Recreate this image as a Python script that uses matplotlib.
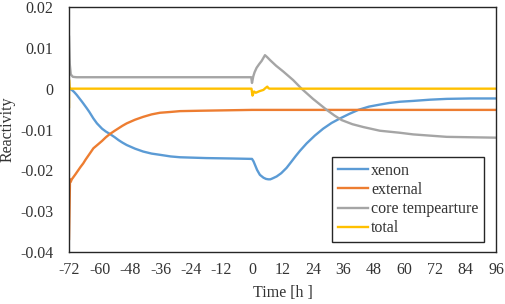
import matplotlib
matplotlib.use("Agg")
import matplotlib.pyplot as plt
from matplotlib.ticker import FixedLocator

plt.rcParams['font.family'] = ['Liberation Serif', 'DejaVu Serif']

# ---- data ----
xenon_t = [-72, -71.5, -70.9, -70, -69, -68, -67, -66.4, -65, -64, -62.4, -61, -59, -57.5, -55.9,
           -54, -52.5, -51, -49.3, -46, -42.8, -39.5, -36.2, -32, -28.3, -18, -8, 0, 0.6, 1.2, 2,
           3.1, 4.5, 5.5, 6.4, 7.2, 8, 9.7, 11.5, 13.6, 15.6, 17.2, 18.9, 21.5, 24.7, 28, 31.3,
           34.6, 38.2, 41.8, 46, 50.3, 54, 58.2, 63.4, 70, 76.6, 86, 96]
xenon_v = [0, -0.0001, -0.0003, -0.0008, -0.0015, -0.0023, -0.0031, -0.0036, -0.0048, -0.0057,
           -0.0073, -0.0085, -0.0098, -0.0105, -0.0111, -0.0119, -0.0126, -0.0132, -0.0138, -0.0147,
           -0.0154, -0.0159, -0.0162, -0.0166, -0.0168, -0.0170, -0.0171, -0.0172, -0.0178, -0.0187,
           -0.0199, -0.0211, -0.0218, -0.0221, -0.0222, -0.0222, -0.0220, -0.0215, -0.0207, -0.0194,
           -0.0178, -0.0165, -0.0152, -0.0134, -0.0115, -0.0098, -0.0084, -0.0073, -0.0062, -0.0052,
           -0.0044, -0.0039, -0.0035, -0.0032, -0.0030, -0.0027, -0.0025, -0.0024, -0.0024]

external_t = [-72, -71.6, -71.3, -70.9, -69.5, -68.5, -67.5, -66.4, -65.5, -64.5, -63.5, -62.4,
              -60.5, -59, -57.5, -55.9, -54, -52.5, -51, -49.3, -46, -42.8, -39.5, -36.2, -32,
              -28.3, -20, -10, 0, 96]
external_v = [-0.0368, -0.0222, -0.0228, -0.0222, -0.0210, -0.0201, -0.0192, -0.0183, -0.0174,
              -0.0165, -0.0156, -0.0146, -0.0136, -0.0128, -0.0119, -0.0111, -0.0103, -0.0097,
              -0.0091, -0.0085, -0.0076, -0.0069, -0.0063, -0.0059, -0.0057, -0.0055, -0.0054,
              -0.0053, -0.0052, -0.0052]

core_t = [-72, -71.7, -71.3, -70.5, -69, -0.3, 0, 0.5, 1, 1.8, 2.8, 3.8, 5.1, 6, 7.1, 9.5, 12.3,
          16.2, 19.5, 24, 29.4, 32.5, 35.3, 39.5, 43.8, 50.3, 58.2, 63.4, 70, 76.6, 86, 96]
core_v = [0.0127, 0.0060, 0.0035, 0.0029, 0.0028, 0.0028, 0.0014, 0.0030, 0.0040, 0.0051, 0.0060,
          0.0068, 0.0082, 0.0077, 0.0070, 0.0056, 0.0042, 0.0021, 0.0000, -0.0025, -0.0052,
          -0.0066, -0.0077, -0.0087, -0.0094, -0.0103, -0.0108, -0.0112, -0.0115, -0.0118,
          -0.0119, -0.0120]

total_t = [-72, -72, -71.8, -0.2, 0.2, 0.8, 1.5, 3, 4.5, 5.2, 6, 6.5, 7, 96]
total_v = [-0.0045, 0.0022, 0, 0, -0.0017, -0.0007, -0.0010, -0.0006, -0.0003, 0.0001, 0.0005,
           0.0001, 0, 0]

series_names = ['xenon', 'external', 'core tempearture', 'total']
series_colors = ['#5B9BD5', '#ED7D31', '#A5A5A5', '#FFC000']

xticks = [-72, -60, -48, -36, -24, -12, 0, 12, 24, 36, 48, 60, 72, 84, 96]
yticks = [-0.04, -0.03, -0.02, -0.01, 0, 0.01, 0.02]
ytick_labels = ['-0.04', '-0.03', '-0.02', '-0.01', '0', '0.01', '0.02']

# ---- plot ----
fig = plt.figure(figsize=(5.05, 3.04), dpi=100)
ax = fig.add_axes([69/505, 52/304, 427/505, 245/304])

data = [(xenon_t, xenon_v), (external_t, external_v), (core_t, core_v), (total_t, total_v)]
for (t, v), name, c in zip(data, series_names, series_colors):
    ax.plot(t, v, color=c, lw=1.7, label=name, solid_joinstyle='round')

ax.set_xlim(-72, 96)
ax.set_ylim(-0.04, 0.02)
ax.xaxis.set_major_locator(FixedLocator(xticks))
ax.set_xticklabels([str(x) for x in xticks])
ax.yaxis.set_major_locator(FixedLocator(yticks))
ax.set_yticklabels(ytick_labels)
ax.tick_params(length=0, labelsize=11.5, colors='#333333')
ax.tick_params(axis='y', pad=11)
ax.tick_params(axis='x', pad=7)
for s in ax.spines.values():
    s.set_color('#262626')
    s.set_linewidth(1.0)

ax.set_xlabel('Time [h ]', fontsize=11.5, color='#333333')
ax.xaxis.set_label_coords(0.5, -0.135)
ax.set_ylabel('Reactivity', fontsize=11.5, color='#333333')
ax.yaxis.set_label_coords(-0.125, 0.5)

leg = ax.legend(loc='lower right', bbox_to_anchor=(0.972, 0.041), borderaxespad=0,
                fontsize=11.5, frameon=True, fancybox=False, framealpha=1,
                handlelength=1.9, handletextpad=0.2, labelspacing=0.2, borderpad=0.35)
leg.get_frame().set_edgecolor('#262626')
leg.get_frame().set_linewidth(1.0)
for txt in leg.get_texts():
    txt.set_color('#333333')

fig.savefig('out.png', dpi=100)
